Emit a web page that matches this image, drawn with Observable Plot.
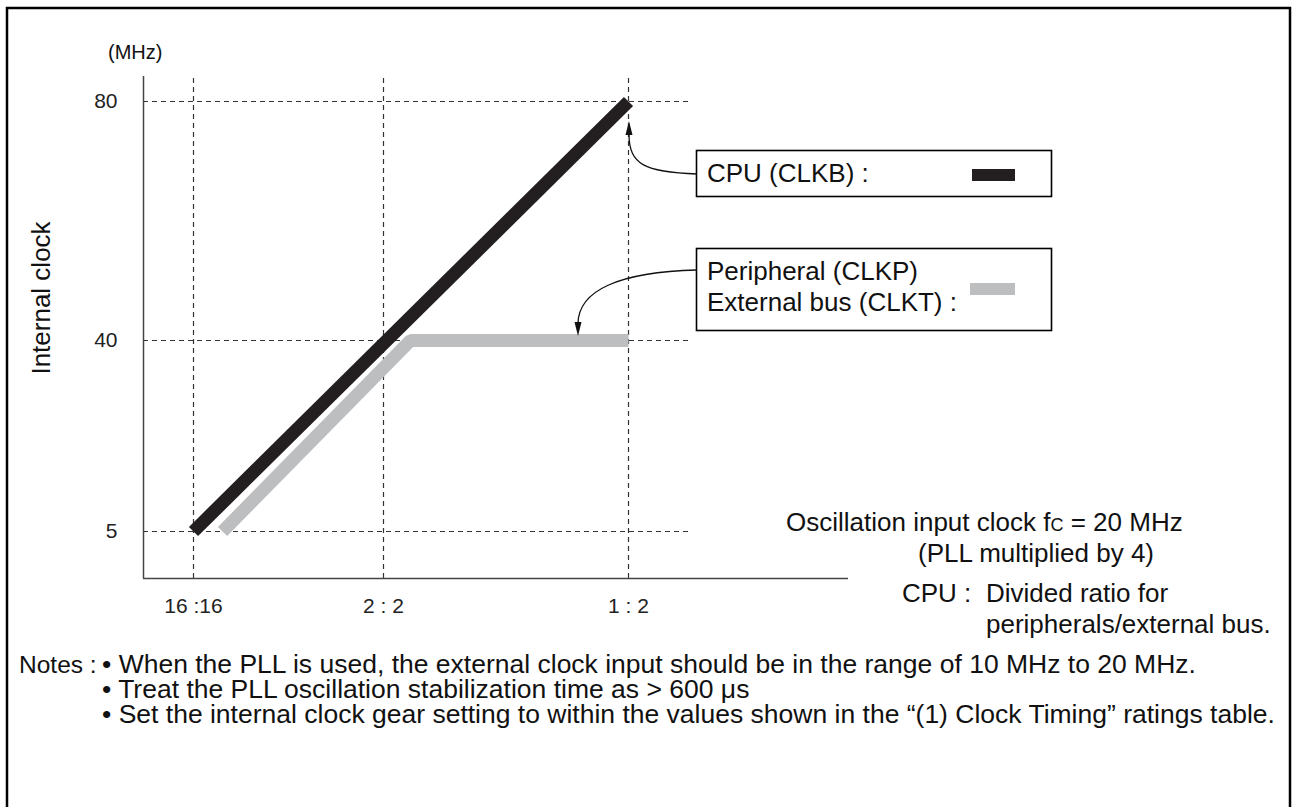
<!DOCTYPE html>
<html><head><meta charset="utf-8">
<script src="https://cdn.jsdelivr.net/npm/d3@7"></script>
<script src="https://cdn.jsdelivr.net/npm/@observablehq/plot@0.6"></script>
<style>
html,body{margin:0;padding:0;background:#fff;overflow:hidden}
#chart{position:absolute;left:0;top:0}
</style></head><body><div id="chart"></div>
<script>
// ---- data ----
const xTickLabels = ["16 :16", "2 : 2", "1 : 2"];
const xTickPositions = [1, 2, 3];
const yTicks = [5, 40, 80];
const cpuX = [1, 3];
const cpuY = [5, 80];
const periphX = [1.153, 2.11, 3];
const periphY = [5, 40, 40];
const xDomain = [0, 1, 2, 3, 4];
const yDomain = [-4, 5, 40, 80, 84.2];
const gridEndX = 3.29;
const notes = [
  "\u2022 When the PLL is used, the external clock input should be in the range of 10 MHz to 20 MHz.",
  "\u2022 Treat the PLL oscillation stabilization time as > 600 \u03bcs",
  "\u2022 Set the internal clock gear setting to within the values shown in the \u201c(1) Clock Timing\u201d ratings table."
];

const cpu = cpuX.map((x, i) => ({x, y: cpuY[i]}));
const periph = periphX.map((x, i) => ({x, y: periphY[i]}));
const labelMap = new Map(xTickPositions.map((p, i) => [p, xTickLabels[i]]));

const FONT = "'Liberation Sans', Arial, Helvetica, sans-serif";

const plot = Plot.plot({
  width: 1292, height: 807,
  marginLeft: 143, marginRight: 444, marginTop: 76, marginBottom: 229,
  style: {fontFamily: FONT, background: "transparent", overflow: "visible"},
  x: {type: "linear", domain: xDomain, range: [143, 193, 383, 628, 848], axis: null},
  y: {type: "linear", domain: yDomain, range: [578, 531, 340, 101, 76], axis: null},
  marks: [
    Plot.ruleX(xTickPositions, {y1: yDomain[0], y2: yDomain[4], stroke: "#333", strokeWidth: 1.2, strokeDasharray: "5,4"}),
    Plot.ruleY(yTicks, {x1: xDomain[0], x2: gridEndX, stroke: "#333", strokeWidth: 1.2, strokeDasharray: "5,4"}),
    Plot.ruleX([xDomain[0]], {y1: yDomain[0], y2: yDomain[4], stroke: "#444", strokeWidth: 1.5}),
    Plot.ruleY([yDomain[0]], {x1: xDomain[0], x2: xDomain[4], stroke: "#444", strokeWidth: 1.5}),
    Plot.line(periph, {x: "x", y: "y", stroke: "#bcbec0", strokeWidth: 13, strokeLinecap: "butt", strokeLinejoin: "miter"}),
    Plot.line(cpu, {x: "x", y: "y", stroke: "#231f20", strokeWidth: 13, strokeLinecap: "butt", strokeLinejoin: "miter"}),
    Plot.axisX({ticks: xTickPositions, tickFormat: d => labelMap.get(d), tickSize: 0, tickPadding: 20, fontSize: 21, fill: "#222", label: null, anchor: "bottom"}),
    Plot.axisY({ticks: yTicks, tickSize: 0, tickPadding: 26, fontSize: 21, fill: "#222", label: null, anchor: "left"})
  ]
});
document.getElementById("chart").appendChild(plot);

// ---- decorations ----
const svg = d3.select(plot);
const g = svg.append("g").attr("font-family", FONT).attr("fill", "#111").attr("text-anchor", "start");

g.append("rect").attr("x", 7).attr("y", 8).attr("width", 1283).attr("height", 900)
  .attr("fill", "none").attr("stroke", "#000").attr("stroke-width", 2.5);

g.append("text").attr("x", 108).attr("y", 59).attr("font-size", 20).text("(MHz)");
g.append("text").attr("transform", "translate(50,298) rotate(-90)").attr("text-anchor", "middle")
  .attr("font-size", 26).text("Internal clock");

// CPU box
g.append("rect").attr("x", 696.5).attr("y", 150.5).attr("width", 355).attr("height", 46)
  .attr("fill", "#fff").attr("stroke", "#000").attr("stroke-width", 1.6);
g.append("text").attr("x", 707).attr("y", 182).attr("font-size", 26).text("CPU (CLKB) :");
g.append("rect").attr("x", 972).attr("y", 169).attr("width", 43).attr("height", 12).attr("fill", "#231f20");

// Peripheral box
g.append("rect").attr("x", 696.5).attr("y", 248.5).attr("width", 355).attr("height", 82)
  .attr("fill", "#fff").attr("stroke", "#000").attr("stroke-width", 1.6);
const pt = g.append("text").attr("x", 707).attr("y", 280).attr("font-size", 26);
pt.append("tspan").attr("x", 707).text("Peripheral (CLKP)");
pt.append("tspan").attr("x", 707).attr("dy", 31).text("External bus (CLKT) :");
g.append("rect").attr("x", 970).attr("y", 283).attr("width", 45).attr("height", 12).attr("fill", "#bcbec0");

// connectors
g.append("path").attr("d", "M697,174 C645,172 629,165 629,134").attr("fill", "none").attr("stroke", "#111").attr("stroke-width", 1.3);
g.append("path").attr("d", "M629,121 L625.5,135 L632.5,135 Z").attr("fill", "#111");
g.append("path").attr("d", "M697,270 C620,272 578,290 578,324").attr("fill", "none").attr("stroke", "#111").attr("stroke-width", 1.3);
g.append("path").attr("d", "M578,336 L574.5,322 L581.5,322 Z").attr("fill", "#111");

// right text block
const t1 = g.append("text").attr("x", 786).attr("y", 531).attr("font-size", 26);
t1.append("tspan").text("Oscillation input clock f");
t1.append("tspan").attr("font-size", 18).text("C");
t1.append("tspan").text(" = 20 MHz");
g.append("text").attr("x", 918).attr("y", 562).attr("font-size", 26).text("(PLL multiplied by 4)");
g.append("text").attr("x", 902).attr("y", 602).attr("font-size", 26).text("CPU :");
const dv = g.append("text").attr("x", 986).attr("y", 602).attr("font-size", 26);
dv.append("tspan").attr("x", 986).text("Divided ratio for");
dv.append("tspan").attr("x", 986).attr("dy", 31).text("peripherals/external bus.");

// notes
g.append("text").attr("x", 19).attr("y", 673).attr("font-size", 24.5).text("Notes :");
const nt = g.append("text").attr("x", 102).attr("y", 673).attr("font-size", 26.5);
notes.forEach((s, i) => nt.append("tspan").attr("x", 102).attr("dy", i === 0 ? 0 : 25).text(s));
</script></body></html>
